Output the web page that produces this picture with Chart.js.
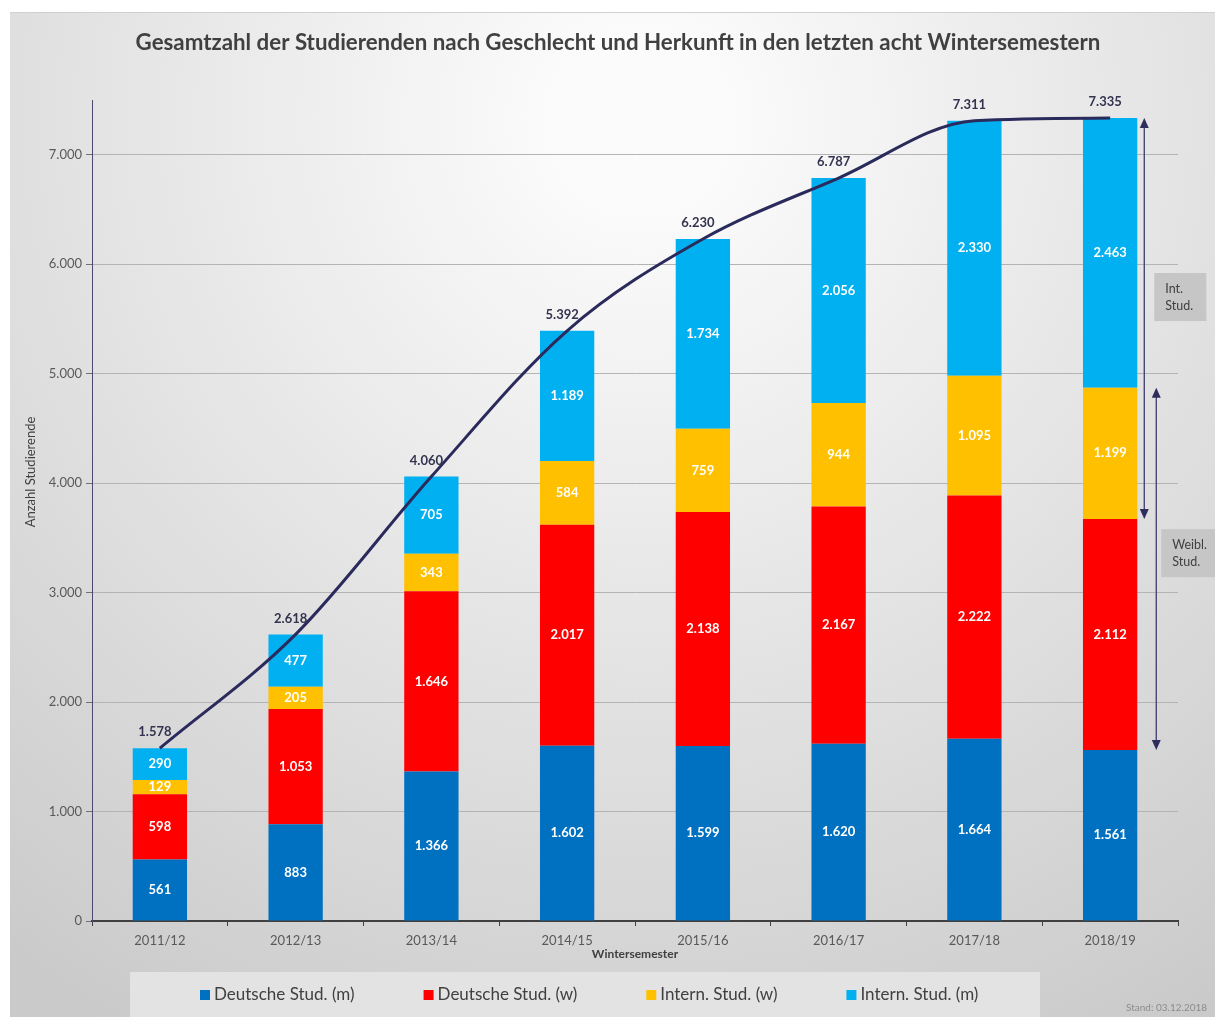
<!DOCTYPE html>
<html>
<head>
<meta charset="utf-8">
<script src="https://cdn.jsdelivr.net/npm/chart.js@4"></script>
<style>
  body { margin: 0; background: #fff; }
  #wrap { width: 1215px; height: 1017px; }
</style>
</head>
<body>
<div id="wrap"><canvas id="studChart" width="1215" height="1017"></canvas></div>
<script>
// Werte aus der Grafik
const semesters = ['2011/12', '2012/13', '2013/14', '2014/15', '2015/16', '2016/17', '2017/18', '2018/19'];
const deutscheM = [561, 883, 1366, 1602, 1599, 1620, 1664, 1561];
const deutscheW = [598, 1053, 1646, 2017, 2138, 2167, 2222, 2112];
const internW = [129, 205, 343, 584, 759, 944, 1095, 1199];
const internM = [290, 477, 705, 1189, 1734, 2056, 2330, 2463];
const totals = [1578, 2618, 4060, 5392, 6230, 6787, 7311, 7335];
const yTicks = [0, 1000, 2000, 3000, 4000, 5000, 6000, 7000];

const FONT = 'Lato, "DejaVu Sans", sans-serif';
const TITLE = 'Gesamtzahl der Studierenden nach Geschlecht und Herkunft in den letzten acht Wintersemestern';

// Zahlen mit Tausenderpunkt
function fmt(n) {
  return String(n).replace(/\B(?=(\d{3})+(?!\d))/g, '.');
}

// Hintergrund mit Verlauf und Titel
const backgroundPlugin = {
  id: 'bg',
  beforeDraw(chart) {
    const c = chart.ctx;
    c.save();
    c.fillStyle = '#ffffff';
    c.fillRect(0, 0, chart.width, chart.height);
    const g = c.createRadialGradient(640, 120, 80, 640, 120, 1050);
    g.addColorStop(0, '#fbfbfb');
    g.addColorStop(1, '#cacaca');
    c.fillStyle = g;
    c.fillRect(10, 12, chart.width - 10, chart.height - 12);
    c.strokeStyle = '#d0d0d0';
    c.lineWidth = 1;
    c.beginPath();
    c.moveTo(10, 12.5);
    c.lineTo(chart.width, 12.5);
    c.stroke();

    c.fillStyle = '#404040';
    c.font = 'bold 22.3px ' + FONT;
    c.textAlign = 'center';
    c.textBaseline = 'middle';
    c.fillText(TITLE, 618, 43);
    c.restore();
  }
};

// Werte in den Balken und über der Linie
const labelPlugin = {
  id: 'valueLabels',
  afterDatasetsDraw(chart) {
    const c = chart.ctx;
    c.save();
    c.textAlign = 'center';
    c.textBaseline = 'middle';
    chart.data.datasets.forEach((ds, i) => {
      const meta = chart.getDatasetMeta(i);
      meta.data.forEach((el, j) => {
        const v = ds.data[j];
        if (meta.type === 'line') {
          c.fillStyle = '#33334f';
          c.font = 'bold 13px ' + FONT;
          c.fillText(fmt(v), el.x - 5, el.y - 16);
        } else {
          c.fillStyle = '#ffffff';
          c.font = 'bold 13px ' + FONT;
          c.fillText(fmt(v), el.x, (el.y + el.base) / 2);
        }
      });
    });
    c.restore();
  }
};

// Pfeile und Kästen rechts neben dem letzten Balken
const annotationPlugin = {
  id: 'arrows',
  afterDatasetsDraw(chart) {
    const c = chart.ctx;
    const y = chart.scales.y;
    const last = semesters.length - 1;
    const bar = chart.getDatasetMeta(1).data[last];
    const right = bar.x + bar.width / 2;

    const dm = deutscheM[last], dw = deutscheW[last], iw = internW[last];
    const top = totals[last];

    function arrow(x, v1, v2) {
      const y1 = y.getPixelForValue(v1), y2 = y.getPixelForValue(v2);
      c.strokeStyle = '#3c3c6a';
      c.fillStyle = '#2e2e5e';
      c.lineWidth = 1.3;
      c.beginPath();
      c.moveTo(x, y1 + 6);
      c.lineTo(x, y2 - 6);
      c.stroke();
      c.beginPath();
      c.moveTo(x, y1); c.lineTo(x - 4.5, y1 + 10); c.lineTo(x + 4.5, y1 + 10);
      c.closePath(); c.fill();
      c.beginPath();
      c.moveTo(x, y2); c.lineTo(x - 4.5, y2 - 10); c.lineTo(x + 4.5, y2 - 10);
      c.closePath(); c.fill();
    }

    function box(x, w, v, lines) {
      const cy = y.getPixelForValue(v);
      const h = 48;
      c.fillStyle = '#c6c6c6';
      c.fillRect(x, cy - h / 2, w, h);
      c.fillStyle = '#404040';
      c.font = '12.5px ' + FONT;
      c.textAlign = 'left';
      c.textBaseline = 'middle';
      c.fillText(lines[0], x + 11, cy - 8);
      c.fillText(lines[1], x + 11, cy + 9);
    }

    c.save();
    arrow(right + 7, top, dm + dw);
    arrow(right + 19, dm + dw + iw, dm);
    box(right + 17, 52, 5700, ['Int.', 'Stud.']);
    box(right + 24, 56, 3360, ['Weibl.', 'Stud.']);
    c.restore();
  }
};

// Legende im grauen Kasten unten, Achsentitel links, Stand-Vermerk
const legendPlugin = {
  id: 'boxLegend',
  afterDraw(chart) {
    const c = chart.ctx;
    c.save();
    c.fillStyle = '#e3e3e3';
    c.fillRect(130, 972, 910, 45);
    c.font = '17px ' + FONT;
    c.textBaseline = 'middle';
    c.textAlign = 'left';
    let x = 200;
    chart.data.datasets.forEach(ds => {
      if (ds.type === 'line') return;
      c.fillStyle = ds.backgroundColor;
      c.fillRect(x, 990, 10, 10);
      c.fillStyle = '#404040';
      c.fillText(ds.label, x + 14, 995);
      x += 14 + c.measureText(ds.label).width + 69;
    });
    c.font = '10px ' + FONT;
    c.fillStyle = '#8c8c8c';
    c.fillText('Stand: 03.12.2018', 1126, 1008);

    c.translate(31, 472);
    c.rotate(-Math.PI / 2);
    c.textAlign = 'center';
    c.font = '13px ' + FONT;
    c.fillStyle = '#404040';
    c.fillText('Anzahl Studierende', 0, 0);
    c.restore();
  }
};

const ctx = document.getElementById('studChart').getContext('2d');

const studChart = new Chart(ctx, {
  type: 'bar',
  data: {
    labels: semesters,
    datasets: [
      { label: 'Gesamt', type: 'line', data: totals, stack: 'gesamt', order: 0,
        borderColor: '#2b2a5c', borderWidth: 3, pointRadius: 0,
        cubicInterpolationMode: 'monotone', fill: false },
      { label: 'Deutsche Stud. (m)', data: deutscheM, backgroundColor: '#0070c0', order: 1 },
      { label: 'Deutsche Stud. (w)', data: deutscheW, backgroundColor: '#ff0000', order: 1 },
      { label: 'Intern. Stud. (w)', data: internW, backgroundColor: '#ffc000', order: 1 },
      { label: 'Intern. Stud. (m)', data: internM, backgroundColor: '#00b0f0', order: 1 }
    ]
  },
  options: {
    responsive: false,
    animation: false,
    layout: { padding: { top: 100, left: 14, right: 37, bottom: 56 } },
    datasets: {
      bar: { categoryPercentage: 0.8, barPercentage: 0.5, borderWidth: 0 }
    },
    plugins: {
      legend: { display: false },
      tooltip: { enabled: false },
      title: { display: false }
    },
    scales: {
      x: {
        stacked: true,
        afterFit(scale) { scale.height = 40; },
        grid: { drawOnChartArea: false, drawTicks: true, tickLength: 5, color: '#404040', offset: true },
        border: { color: '#404040', width: 2 },
        ticks: { color: '#595959', font: { family: FONT, size: 13 }, padding: 7 },
        title: { display: true, text: 'Wintersemester', color: '#404040',
                 font: { family: FONT, size: 12, weight: 'bold' }, padding: { top: 0, bottom: 0 } }
      },
      y: {
        stacked: true,
        min: 0,
        max: 7500,
        afterFit(scale) { scale.width = 78; },
        afterBuildTicks(scale) { scale.ticks = yTicks.map(v => ({ value: v })); },
        grid: { color: '#b4b4b4', tickLength: 6, tickColor: '#707070' },
        border: { color: '#4a4a6e', width: 1 },
        ticks: { color: '#595959', font: { family: FONT, size: 13 }, padding: 4,
                 callback: v => fmt(v) }
      }
    }
  },
  plugins: [backgroundPlugin, labelPlugin, annotationPlugin, legendPlugin]
});
</script>
</body>
</html>
